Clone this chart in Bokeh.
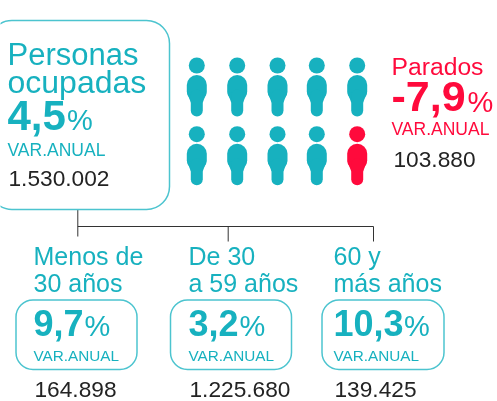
from bokeh.plotting import figure
from bokeh.models import BoxAnnotation, Range1d
from bokeh.core.properties import value
from bokeh.embed import file_html
from bokeh.resources import INLINE

TEAL, RED, DARK = "#17b1bf", "#ff0a3c", "#232323"
FONT = "Liberation Sans"

main_title = ["Personas", "ocupadas"]
main_pct, main_abs = "4,5", "1.530.002"
stop_title, stop_pct, stop_abs = "Parados", "-7,9", "103.880"
var_label = "VAR.ANUAL"
percent = "%"
groups_l1 = ["Menos de", "De 30", "60 y"]
groups_l2 = ["30 años", "a 59 años", "más años"]
groups_pct = ["9,7", "3,2", "10,3"]
groups_abs = ["164.898", "1.225.680", "139.425"]
people_rows = [["ocupado"] * 5, ["ocupado"] * 4 + ["parado"]]

W, H = 497, 401
p = figure(width=W, height=H, output_backend="svg", toolbar_location=None,
           x_range=Range1d(0, W), y_range=Range1d(H, 0), min_border=0,
           outline_line_color=None)
p.axis.visible = False
p.grid.visible = False
p.styles = {"position": "fixed", "left": "0px", "top": "0px"}


def t(x, y, s, size, color=TEAL, style="normal", font=FONT):
    p.text([x], [y - 0.34 * size], text=[s], text_font=value(font), text_font_size=f"{size}px",
           text_color=color, text_font_style=style, text_baseline="alphabetic", text_align="left")


def box(l, r, top, bottom, rad):
    p.add_layout(BoxAnnotation(left=l, right=r, top=top, bottom=bottom, border_radius=rad,
                               fill_alpha=0, line_color="#4cc4cf", line_alpha=1, line_width=1.5))


# boxes
box(-11.6, 169, 20, 209, 23)
for l, r in [(15.5, 136.5), (170, 291), (321.5, 443.5)]:
    box(l, r, 299.5, 369, 17)

# connector
p.segment([77.3, 77.3, 227.7, 373], [209, 226, 226, 226], [77.3, 373, 227.7, 373], [236, 226, 241, 241],
          line_color="#333333", line_width=1)

# people
col_x = [196.3, 236.7, 277, 316.3, 356.7]
row_y = [65, 133.7]
for ry, row in zip(row_y, people_rows):
    for cx, kind in zip(col_x, row):
        c = RED if kind == "parado" else TEAL
        p.circle([cx], [ry], radius=8, fill_color=c, line_color=None)
        p.line([cx, cx], [ry + 19.5, ry + 26], line_color=c, line_width=20, line_cap="round")
        p.patch([cx - 9.8, cx + 9.8, cx + 6, cx - 6], [ry + 27, ry + 27, ry + 37, ry + 37], fill_color=c, line_color=None)
        p.line([cx, cx], [ry + 30, ry + 45], line_color=c, line_width=12, line_cap="round")

# main text
t(7, 64.5, main_title[0], 31)
t(7, 92.5, main_title[1], 32)
t(7, 129.5, main_pct, 42, style="bold")
t(66.5, 129.5, percent, 29)
t(7, 155, var_label, 17.5)
t(8, 186, main_abs, 22.7, DARK)

# stop text
t(391, 74, stop_title, 24.7, RED)
t(391, 111, stop_pct, 43, RED, "bold")
t(467, 111, percent, 29, RED)
t(391, 134, var_label, 17.5, RED)
t(393, 166.7, stop_abs, 22.7, DARK)

# groups
for x, a, b, pct, n, px in zip([33, 188, 333], groups_l1, groups_l2, groups_pct, groups_abs, [84, 239, 403.5]):
    t(x, 263.5, a, 25)
    t(x, 291, b, 25)
    t(x, 334.5, pct, 36, style="bold")
    t(px, 335, percent, 29)
    t(x, 360, var_label, 15.3)
    t(x + 1, 397, n, 22.7, DARK)

open("out.html", "w").write(file_html(p, INLINE))
